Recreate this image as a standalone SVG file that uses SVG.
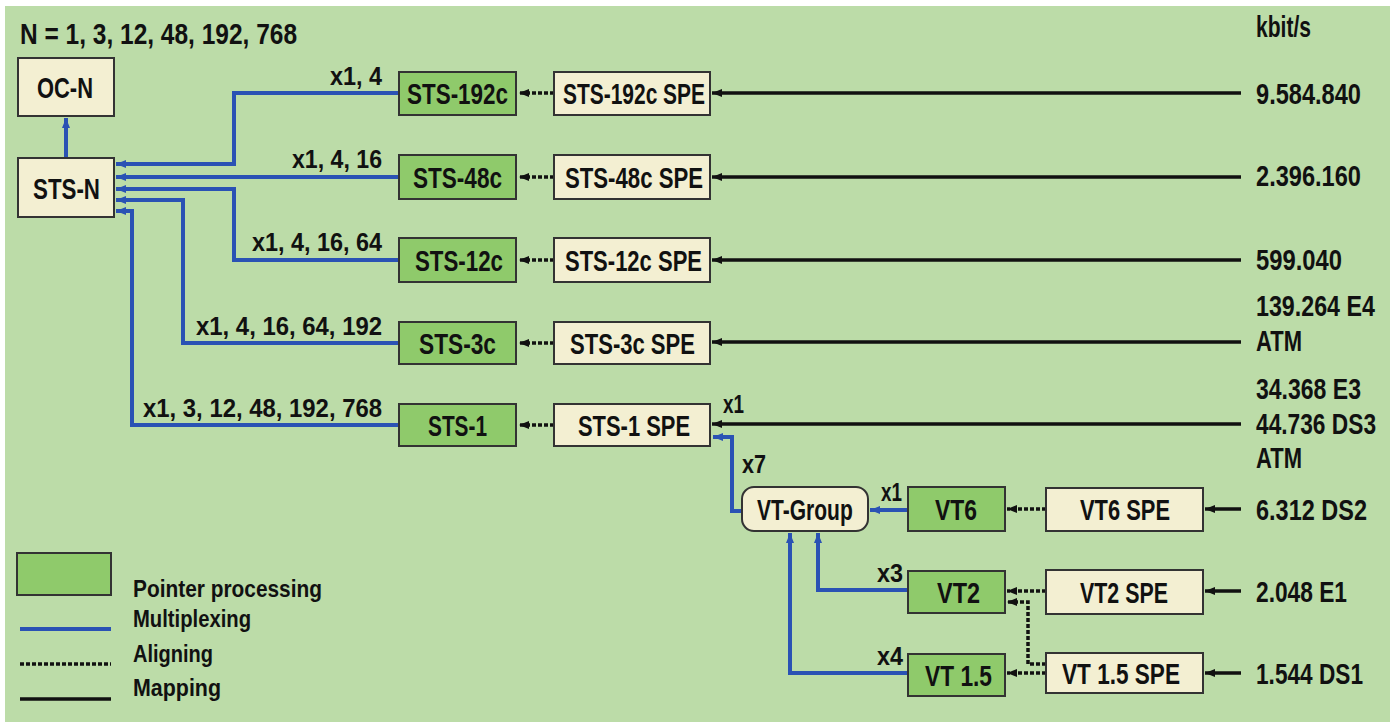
<svg xmlns="http://www.w3.org/2000/svg" width="1396" height="722" viewBox="0 0 1396 722">
<style>
text{font-family:"Liberation Sans",Arial,sans-serif;font-weight:bold;fill:#111}
.n{font-size:30px;text-anchor:start}
.l{font-size:25px}
.r{font-size:29px}
.g{font-size:24px}
.bx{fill:#f3efd2;stroke:#333;stroke-width:2}
.gr{fill:#8fca6b;stroke:#333;stroke-width:2}
.mux{fill:none;stroke:#2a52b4;stroke-width:4}
.ali{fill:none;stroke:#111;stroke-width:3.5;stroke-dasharray:4 2}
.map{fill:none;stroke:#111;stroke-width:3.5}
</style>
<defs>
<marker id="ab" markerUnits="userSpaceOnUse" markerWidth="12" markerHeight="10" refX="10" refY="5" orient="auto"><path d="M0,1 L10,5 L0,9 z" fill="#2a52b4"/></marker>
<marker id="ak" markerUnits="userSpaceOnUse" markerWidth="12" markerHeight="10" refX="10" refY="5" orient="auto"><path d="M0,1 L10,5 L0,9 z" fill="#111"/></marker>
</defs>
<rect x="0" y="0" width="1396" height="722" fill="#ffffff"/>
<rect x="5" y="6" width="1385" height="716" fill="#bcdca8"/>

<text x="20" y="44" style="font-size:30px" textLength="277" lengthAdjust="spacingAndGlyphs">N = 1, 3, 12, 48, 192, 768</text>
<text x="1256" y="37" class="r" textLength="55" lengthAdjust="spacingAndGlyphs">kbit/s</text>

<g id="connectors">
<path class="mux" d="M66,158 V118" marker-end="url(#ab)"/>
<path class="mux" d="M399,93 H234 V164 H116" marker-end="url(#ab)"/>
<path class="mux" d="M399,177 H116" marker-end="url(#ab)"/>
<path class="mux" d="M399,260 H234 V189 H116" marker-end="url(#ab)"/>
<path class="mux" d="M399,343 H183 V200 H116" marker-end="url(#ab)"/>
<path class="mux" d="M399,425 H132 V211 H116" marker-end="url(#ab)"/>
<path class="ali" d="M554,93 H519" marker-end="url(#ak)"/>
<path class="ali" d="M554,177 H519" marker-end="url(#ak)"/>
<path class="ali" d="M554,260 H519" marker-end="url(#ak)"/>
<path class="ali" d="M554,343 H519" marker-end="url(#ak)"/>
<path class="ali" d="M554,425 H519" marker-end="url(#ak)"/>
<path class="map" d="M1241,93 H712" marker-end="url(#ak)"/>
<path class="map" d="M1241,177 H712" marker-end="url(#ak)"/>
<path class="map" d="M1241,260 H712" marker-end="url(#ak)"/>
<path class="map" d="M1241,342 H712" marker-end="url(#ak)"/>
<path class="map" d="M1241,424 H712" marker-end="url(#ak)"/>
<path class="mux" d="M742,511 H732 V437 H713" marker-end="url(#ab)"/>
<path class="mux" d="M908,510 H870" marker-end="url(#ab)"/>
<path class="mux" d="M908,590 H818 V533" marker-end="url(#ab)"/>
<path class="mux" d="M908,673 H790 V533" marker-end="url(#ab)"/>
<path class="ali" d="M1046,509 H1007" marker-end="url(#ak)"/>
<path class="ali" d="M1046,591 H1007" marker-end="url(#ak)"/>
<path class="ali" d="M1046,673 H1007" marker-end="url(#ak)"/>
<path class="ali" d="M1046,664 H1028 V602 H1007" marker-end="url(#ak)"/>
<path class="map" d="M1241,509 H1205" marker-end="url(#ak)"/>
<path class="map" d="M1241,591 H1205" marker-end="url(#ak)"/>
<path class="map" d="M1241,673 H1205" marker-end="url(#ak)"/>
</g>

<g id="labels">
<text x="330" y="85" class="l" textLength="52" lengthAdjust="spacingAndGlyphs">x1, 4</text>
<text x="292" y="168" class="l" textLength="90" lengthAdjust="spacingAndGlyphs">x1, 4, 16</text>
<text x="252" y="251" class="l" textLength="130" lengthAdjust="spacingAndGlyphs">x1, 4, 16, 64</text>
<text x="196" y="335" class="l" textLength="186" lengthAdjust="spacingAndGlyphs">x1, 4, 16, 64, 192</text>
<text x="143" y="417" class="l" textLength="239" lengthAdjust="spacingAndGlyphs">x1, 3, 12, 48, 192, 768</text>
<text x="723" y="413" class="l" textLength="21" lengthAdjust="spacingAndGlyphs">x1</text>
<text x="742" y="473" class="l" textLength="24" lengthAdjust="spacingAndGlyphs">x7</text>
<text x="881" y="501" class="l" textLength="21" lengthAdjust="spacingAndGlyphs">x1</text>
<text x="877" y="582" class="l" textLength="26" lengthAdjust="spacingAndGlyphs">x3</text>
<text x="877" y="665" class="l" textLength="26" lengthAdjust="spacingAndGlyphs">x4</text>
</g>

<g id="rates">
<text x="1256" y="104" class="r" textLength="105" lengthAdjust="spacingAndGlyphs">9.584.840</text>
<text x="1256" y="186" class="r" textLength="105" lengthAdjust="spacingAndGlyphs">2.396.160</text>
<text x="1256" y="270" class="r" textLength="86" lengthAdjust="spacingAndGlyphs">599.040</text>
<text transform="translate(1256,316) scale(0.802,1)" class="r">139.264 E4</text>
<text x="1256" y="351" class="r" textLength="46" lengthAdjust="spacingAndGlyphs">ATM</text>
<text x="1256" y="399" class="r" textLength="105" lengthAdjust="spacingAndGlyphs">34.368 E3</text>
<text transform="translate(1256,434) scale(0.784,1)" class="r">44.736 DS3</text>
<text x="1256" y="468" class="r" textLength="46" lengthAdjust="spacingAndGlyphs">ATM</text>
<text x="1256" y="520" class="r" textLength="111" lengthAdjust="spacingAndGlyphs">6.312 DS2</text>
<text x="1256" y="602" class="r" textLength="91" lengthAdjust="spacingAndGlyphs">2.048 E1</text>
<text x="1256" y="684" class="r" textLength="107" lengthAdjust="spacingAndGlyphs">1.544 DS1</text>
</g>

<g id="oc-n"><rect class="bx" x="18" y="58" width="96" height="58"/><text class="n" x="37" y="98" textLength="56" lengthAdjust="spacingAndGlyphs">OC-N</text></g>
<g id="sts-n"><rect class="bx" x="18" y="158" width="96" height="59"/><text class="n" x="33" y="199" textLength="67" lengthAdjust="spacingAndGlyphs">STS-N</text></g>

<g id="sts-192c"><rect class="gr" x="399" y="72" width="117" height="43"/><text class="n" x="407" y="104" textLength="101" lengthAdjust="spacingAndGlyphs">STS-192c</text></g>
<g id="sts-192c-spe"><rect class="bx" x="554" y="72" width="156" height="43"/><text class="n" x="563" y="104" textLength="142" lengthAdjust="spacingAndGlyphs">STS-192c SPE</text></g>
<g id="sts-48c"><rect class="gr" x="399" y="155" width="117" height="44"/><text class="n" x="413" y="188" textLength="89" lengthAdjust="spacingAndGlyphs">STS-48c</text></g>
<g id="sts-48c-spe"><rect class="bx" x="554" y="155" width="156" height="44"/><text class="n" x="565" y="188" textLength="138" lengthAdjust="spacingAndGlyphs">STS-48c SPE</text></g>
<g id="sts-12c"><rect class="gr" x="399" y="238" width="117" height="44"/><text class="n" x="415" y="271" textLength="88" lengthAdjust="spacingAndGlyphs">STS-12c</text></g>
<g id="sts-12c-spe"><rect class="bx" x="554" y="238" width="156" height="44"/><text class="n" x="565" y="271" textLength="137" lengthAdjust="spacingAndGlyphs">STS-12c SPE</text></g>
<g id="sts-3c"><rect class="gr" x="399" y="322" width="117" height="42"/><text class="n" x="419" y="354" textLength="77" lengthAdjust="spacingAndGlyphs">STS-3c</text></g>
<g id="sts-3c-spe"><rect class="bx" x="554" y="322" width="156" height="42"/><text class="n" x="570" y="354" textLength="125" lengthAdjust="spacingAndGlyphs">STS-3c SPE</text></g>
<g id="sts-1"><rect class="gr" x="399" y="404" width="117" height="42"/><text class="n" x="428" y="436" textLength="59" lengthAdjust="spacingAndGlyphs">STS-1</text></g>
<g id="sts-1-spe"><rect class="bx" x="554" y="404" width="156" height="42"/><text class="n" x="578" y="436" textLength="112" lengthAdjust="spacingAndGlyphs">STS-1 SPE</text></g>

<g id="vt-group"><rect class="bx" x="742" y="487" width="126" height="44" rx="12"/><text class="n" transform="translate(757,520) scale(0.701,1)">VT-Group</text></g>
<g id="vt6"><rect class="gr" x="908" y="487" width="97" height="44"/><text class="n" x="935" y="520" textLength="42" lengthAdjust="spacingAndGlyphs">VT6</text></g>
<g id="vt2"><rect class="gr" x="908" y="571" width="97" height="42"/><text class="n" x="937" y="603" textLength="43" lengthAdjust="spacingAndGlyphs">VT2</text></g>
<g id="vt15"><rect class="gr" x="908" y="654" width="97" height="42"/><text class="n" x="925" y="686" textLength="67" lengthAdjust="spacingAndGlyphs">VT 1.5</text></g>
<g id="vt6-spe"><rect class="bx" x="1046" y="488" width="157" height="43"/><text class="n" x="1080" y="520" textLength="90" lengthAdjust="spacingAndGlyphs">VT6 SPE</text></g>
<g id="vt2-spe"><rect class="bx" x="1046" y="570" width="157" height="44"/><text class="n" x="1080" y="603" textLength="88" lengthAdjust="spacingAndGlyphs">VT2 SPE</text></g>
<g id="vt15-spe"><rect class="bx" x="1046" y="653" width="157" height="40"/><text class="n" x="1062" y="684" textLength="118" lengthAdjust="spacingAndGlyphs">VT 1.5 SPE</text></g>

<g id="legend">
<rect class="gr" x="17" y="553" width="94" height="42"/>
<line x1="20" y1="629" x2="111" y2="629" stroke="#2a52b4" stroke-width="4"/>
<line x1="20" y1="664" x2="111" y2="664" class="ali"/>
<line x1="20" y1="699" x2="111" y2="699" class="map"/>
<text x="133" y="597" class="g" textLength="189" lengthAdjust="spacingAndGlyphs">Pointer processing</text>
<text x="133" y="627" class="g" textLength="118" lengthAdjust="spacingAndGlyphs">Multiplexing</text>
<text x="133" y="662" class="g" textLength="80" lengthAdjust="spacingAndGlyphs">Aligning</text>
<text x="133" y="696" class="g" textLength="88" lengthAdjust="spacingAndGlyphs">Mapping</text>
</g>
</svg>
